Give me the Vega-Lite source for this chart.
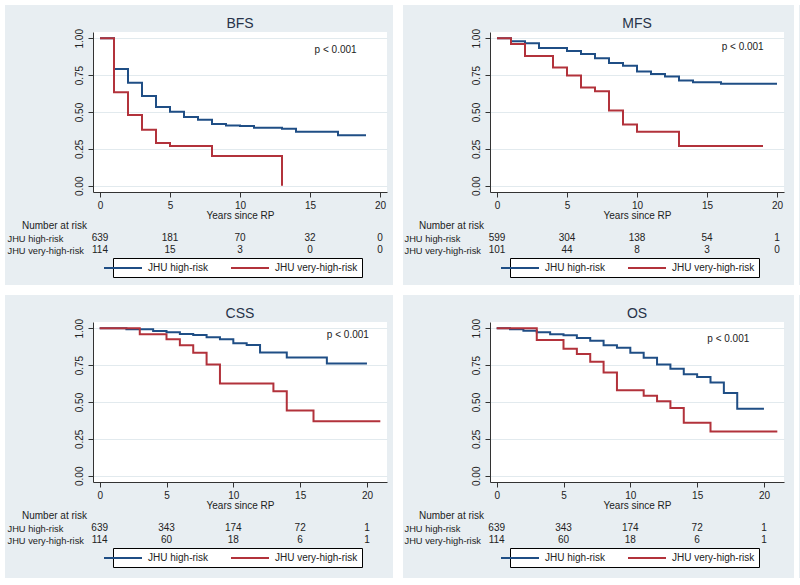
{
"$schema": "https://vega.github.io/schema/vega-lite/v6.json",
"background": "#e8eef2",
"padding": 0,
"config": {"font": "Liberation Sans", "view": {"stroke": null}, "concat": {"spacing": 0},
  "axisY": {"labelOverlap": false}, "axisX": {"labelOverlap": false}},
"datasets": {
"km": [
{"panel":"BFS","group":"JHU high-risk","t":0,"s":1.0},{"panel":"BFS","group":"JHU high-risk","t":1,"s":0.791},{"panel":"BFS","group":"JHU high-risk","t":2,"s":0.698},{"panel":"BFS","group":"JHU high-risk","t":3,"s":0.609},{"panel":"BFS","group":"JHU high-risk","t":4,"s":0.534},{"panel":"BFS","group":"JHU high-risk","t":5,"s":0.502},{"panel":"BFS","group":"JHU high-risk","t":6,"s":0.466},{"panel":"BFS","group":"JHU high-risk","t":7,"s":0.448},{"panel":"BFS","group":"JHU high-risk","t":8,"s":0.418},{"panel":"BFS","group":"JHU high-risk","t":9,"s":0.409},{"panel":"BFS","group":"JHU high-risk","t":10,"s":0.405},{"panel":"BFS","group":"JHU high-risk","t":11,"s":0.393},{"panel":"BFS","group":"JHU high-risk","t":13,"s":0.386},{"panel":"BFS","group":"JHU high-risk","t":14,"s":0.366},{"panel":"BFS","group":"JHU high-risk","t":17,"s":0.343},{"panel":"BFS","group":"JHU high-risk","t":19,"s":0.343},
{"panel":"MFS","group":"JHU high-risk","t":0,"s":1.0},{"panel":"MFS","group":"JHU high-risk","t":1,"s":0.98},{"panel":"MFS","group":"JHU high-risk","t":2,"s":0.966},{"panel":"MFS","group":"JHU high-risk","t":3,"s":0.934},{"panel":"MFS","group":"JHU high-risk","t":5,"s":0.914},{"panel":"MFS","group":"JHU high-risk","t":6,"s":0.893},{"panel":"MFS","group":"JHU high-risk","t":7,"s":0.864},{"panel":"MFS","group":"JHU high-risk","t":8,"s":0.832},{"panel":"MFS","group":"JHU high-risk","t":9,"s":0.814},{"panel":"MFS","group":"JHU high-risk","t":10,"s":0.775},{"panel":"MFS","group":"JHU high-risk","t":11,"s":0.757},{"panel":"MFS","group":"JHU high-risk","t":12,"s":0.741},{"panel":"MFS","group":"JHU high-risk","t":13,"s":0.714},{"panel":"MFS","group":"JHU high-risk","t":14,"s":0.702},{"panel":"MFS","group":"JHU high-risk","t":16,"s":0.691},{"panel":"MFS","group":"JHU high-risk","t":20,"s":0.691},
{"panel":"CSS","group":"JHU high-risk","t":0,"s":1.0},{"panel":"CSS","group":"JHU high-risk","t":2,"s":0.993},{"panel":"CSS","group":"JHU high-risk","t":4,"s":0.982},{"panel":"CSS","group":"JHU high-risk","t":5,"s":0.973},{"panel":"CSS","group":"JHU high-risk","t":6,"s":0.961},{"panel":"CSS","group":"JHU high-risk","t":7,"s":0.955},{"panel":"CSS","group":"JHU high-risk","t":8,"s":0.939},{"panel":"CSS","group":"JHU high-risk","t":9,"s":0.925},{"panel":"CSS","group":"JHU high-risk","t":10,"s":0.898},{"panel":"CSS","group":"JHU high-risk","t":11,"s":0.886},{"panel":"CSS","group":"JHU high-risk","t":12,"s":0.836},{"panel":"CSS","group":"JHU high-risk","t":14,"s":0.802},{"panel":"CSS","group":"JHU high-risk","t":17,"s":0.761},{"panel":"CSS","group":"JHU high-risk","t":20,"s":0.761},
{"panel":"OS","group":"JHU high-risk","t":0,"s":1.0},{"panel":"OS","group":"JHU high-risk","t":1,"s":0.993},{"panel":"OS","group":"JHU high-risk","t":2,"s":0.984},{"panel":"OS","group":"JHU high-risk","t":3,"s":0.973},{"panel":"OS","group":"JHU high-risk","t":4,"s":0.959},{"panel":"OS","group":"JHU high-risk","t":5,"s":0.952},{"panel":"OS","group":"JHU high-risk","t":6,"s":0.934},{"panel":"OS","group":"JHU high-risk","t":7,"s":0.916},{"panel":"OS","group":"JHU high-risk","t":8,"s":0.884},{"panel":"OS","group":"JHU high-risk","t":9,"s":0.868},{"panel":"OS","group":"JHU high-risk","t":10,"s":0.834},{"panel":"OS","group":"JHU high-risk","t":11,"s":0.8},{"panel":"OS","group":"JHU high-risk","t":12,"s":0.755},{"panel":"OS","group":"JHU high-risk","t":13,"s":0.725},{"panel":"OS","group":"JHU high-risk","t":14,"s":0.689},{"panel":"OS","group":"JHU high-risk","t":15,"s":0.67},{"panel":"OS","group":"JHU high-risk","t":16,"s":0.632},{"panel":"OS","group":"JHU high-risk","t":17,"s":0.561},{"panel":"OS","group":"JHU high-risk","t":18,"s":0.455},{"panel":"OS","group":"JHU high-risk","t":20,"s":0.455},
{"panel":"BFS","group":"JHU very-high-risk","t":0,"s":1.0},{"panel":"BFS","group":"JHU very-high-risk","t":1,"s":0.634},{"panel":"BFS","group":"JHU very-high-risk","t":2,"s":0.48},{"panel":"BFS","group":"JHU very-high-risk","t":3,"s":0.38},{"panel":"BFS","group":"JHU very-high-risk","t":4,"s":0.289},{"panel":"BFS","group":"JHU very-high-risk","t":5,"s":0.27},{"panel":"BFS","group":"JHU very-high-risk","t":8,"s":0.202},{"panel":"BFS","group":"JHU very-high-risk","t":13,"s":0.0},
{"panel":"MFS","group":"JHU very-high-risk","t":0,"s":1.0},{"panel":"MFS","group":"JHU very-high-risk","t":1,"s":0.961},{"panel":"MFS","group":"JHU very-high-risk","t":2,"s":0.88},{"panel":"MFS","group":"JHU very-high-risk","t":4,"s":0.802},{"panel":"MFS","group":"JHU very-high-risk","t":5,"s":0.748},{"panel":"MFS","group":"JHU very-high-risk","t":6,"s":0.666},{"panel":"MFS","group":"JHU very-high-risk","t":7,"s":0.641},{"panel":"MFS","group":"JHU very-high-risk","t":8,"s":0.511},{"panel":"MFS","group":"JHU very-high-risk","t":9,"s":0.416},{"panel":"MFS","group":"JHU very-high-risk","t":10,"s":0.366},{"panel":"MFS","group":"JHU very-high-risk","t":13,"s":0.27},{"panel":"MFS","group":"JHU very-high-risk","t":19,"s":0.27},
{"panel":"CSS","group":"JHU very-high-risk","t":0,"s":1.0},{"panel":"CSS","group":"JHU very-high-risk","t":3,"s":0.959},{"panel":"CSS","group":"JHU very-high-risk","t":5,"s":0.925},{"panel":"CSS","group":"JHU very-high-risk","t":6,"s":0.884},{"panel":"CSS","group":"JHU very-high-risk","t":7,"s":0.834},{"panel":"CSS","group":"JHU very-high-risk","t":8,"s":0.755},{"panel":"CSS","group":"JHU very-high-risk","t":9,"s":0.625},{"panel":"CSS","group":"JHU very-high-risk","t":13,"s":0.573},{"panel":"CSS","group":"JHU very-high-risk","t":14,"s":0.443},{"panel":"CSS","group":"JHU very-high-risk","t":16,"s":0.37},{"panel":"CSS","group":"JHU very-high-risk","t":21,"s":0.37},
{"panel":"OS","group":"JHU very-high-risk","t":0,"s":1.0},{"panel":"OS","group":"JHU very-high-risk","t":3,"s":0.92},{"panel":"OS","group":"JHU very-high-risk","t":5,"s":0.861},{"panel":"OS","group":"JHU very-high-risk","t":6,"s":0.825},{"panel":"OS","group":"JHU very-high-risk","t":7,"s":0.773},{"panel":"OS","group":"JHU very-high-risk","t":8,"s":0.7},{"panel":"OS","group":"JHU very-high-risk","t":9,"s":0.58},{"panel":"OS","group":"JHU very-high-risk","t":11,"s":0.543},{"panel":"OS","group":"JHU very-high-risk","t":12,"s":0.505},{"panel":"OS","group":"JHU very-high-risk","t":13,"s":0.459},{"panel":"OS","group":"JHU very-high-risk","t":14,"s":0.359},{"panel":"OS","group":"JHU very-high-risk","t":16,"s":0.3},{"panel":"OS","group":"JHU very-high-risk","t":21,"s":0.3}
],
"risk": [
{"panel":"BFS","group":"JHU high-risk","t":0,"n":639},{"panel":"BFS","group":"JHU high-risk","t":5,"n":181},{"panel":"BFS","group":"JHU high-risk","t":10,"n":70},{"panel":"BFS","group":"JHU high-risk","t":15,"n":32},{"panel":"BFS","group":"JHU high-risk","t":20,"n":0},
{"panel":"BFS","group":"JHU very-high-risk","t":0,"n":114},{"panel":"BFS","group":"JHU very-high-risk","t":5,"n":15},{"panel":"BFS","group":"JHU very-high-risk","t":10,"n":3},{"panel":"BFS","group":"JHU very-high-risk","t":15,"n":0},{"panel":"BFS","group":"JHU very-high-risk","t":20,"n":0},
{"panel":"MFS","group":"JHU high-risk","t":0,"n":599},{"panel":"MFS","group":"JHU high-risk","t":5,"n":304},{"panel":"MFS","group":"JHU high-risk","t":10,"n":138},{"panel":"MFS","group":"JHU high-risk","t":15,"n":54},{"panel":"MFS","group":"JHU high-risk","t":20,"n":1},
{"panel":"MFS","group":"JHU very-high-risk","t":0,"n":101},{"panel":"MFS","group":"JHU very-high-risk","t":5,"n":44},{"panel":"MFS","group":"JHU very-high-risk","t":10,"n":8},{"panel":"MFS","group":"JHU very-high-risk","t":15,"n":3},{"panel":"MFS","group":"JHU very-high-risk","t":20,"n":0},
{"panel":"CSS","group":"JHU high-risk","t":0,"n":639},{"panel":"CSS","group":"JHU high-risk","t":5,"n":343},{"panel":"CSS","group":"JHU high-risk","t":10,"n":174},{"panel":"CSS","group":"JHU high-risk","t":15,"n":72},{"panel":"CSS","group":"JHU high-risk","t":20,"n":1},
{"panel":"CSS","group":"JHU very-high-risk","t":0,"n":114},{"panel":"CSS","group":"JHU very-high-risk","t":5,"n":60},{"panel":"CSS","group":"JHU very-high-risk","t":10,"n":18},{"panel":"CSS","group":"JHU very-high-risk","t":15,"n":6},{"panel":"CSS","group":"JHU very-high-risk","t":20,"n":1},
{"panel":"OS","group":"JHU high-risk","t":0,"n":639},{"panel":"OS","group":"JHU high-risk","t":5,"n":343},{"panel":"OS","group":"JHU high-risk","t":10,"n":174},{"panel":"OS","group":"JHU high-risk","t":15,"n":72},{"panel":"OS","group":"JHU high-risk","t":20,"n":1},
{"panel":"OS","group":"JHU very-high-risk","t":0,"n":114},{"panel":"OS","group":"JHU very-high-risk","t":5,"n":60},{"panel":"OS","group":"JHU very-high-risk","t":10,"n":18},{"panel":"OS","group":"JHU very-high-risk","t":15,"n":6},{"panel":"OS","group":"JHU very-high-risk","t":20,"n":1}
],
"pv": [
{"panel":"BFS","label":"p < 0.001"},{"panel":"MFS","label":"p < 0.001"},{"panel":"CSS","label":"p < 0.001"},{"panel":"OS","label":"p < 0.001"}
]
},
"spacing": 0,
"resolve": {"scale": {"x": "independent", "y": "independent", "color": "independent"}, "axis": {"x": "independent", "y": "independent"}, "legend": {"color": "independent"}},
"vconcat": [
{"width": 800, "height": 5, "data": {"values": []}, "mark": "point", "encoding": {}, "view": {"fill": "white"}},
{"spacing": 0,
 "resolve": {"scale": {"x": "independent", "y": "independent", "color": "independent"}, "axis": {"x": "independent", "y": "independent"}, "legend": {"color": "independent"}},
 "hconcat": [
 {"width": 5, "height": 280, "data": {"values": []}, "mark": "point", "encoding": {}, "view": {"fill": "white"}},
 {"width": 2, "height": 280, "data": {"values": []}, "mark": "point", "encoding": {}},
 {"spacing": 0, "bounds": "flush",
  "resolve": {"scale": {"x": "independent", "y": "independent", "color": "independent"}, "axis": {"x": "independent", "y": "independent"}, "legend": {"color": "independent"}},
  "vconcat": [
  {"width": 294, "height": 27, "data": {"values": []}, "mark": "point", "encoding": {}},
  {"width": 294, "height": 160, "view": {"fill": "white", "stroke": null},
   "title": {"text": "BFS", "fontSize": 14, "fontWeight": "normal", "color": "#273349", "offset": -2, "anchor": "middle", "frame": "group"},
   "layer": [
    {"data": {"name": "km"}, "transform": [{"filter": "datum.panel === 'BFS'"}],
     "mark": {"type": "line", "interpolate": "step-after", "strokeWidth": 2},
     "encoding": {
      "x": {"field": "t", "type": "quantitative", "scale": {"domain": [-0.5, 20.5], "nice": false, "zero": false},
            "axis": {"values": [0,5,10,15,20], "tickCount": 5, "title": "Years since RP", "titleFontSize": 10, "titleFontWeight": "normal", "titleColor": "#222", "titlePadding": 0, "labelFontSize": 10, "labelColor": "#222", "labelPadding": 3, "labelFlush": false, "tickSize": 5, "tickColor": "#333", "domainColor": "#333", "grid": false}},
      "y": {"field": "s", "type": "quantitative", "scale": {"domain": [-0.0425, 1.0425], "nice": false, "zero": false},
            "axis": {"values": [0,0.25,0.5,0.75,1], "tickCount": 5, "format": ".2f", "title": null, "labelAngle": -90, "labelFontSize": 10, "labelColor": "#222", "labelPadding": 4, "labelFlush": false, "labelOverlap": false, "tickSize": 5, "tickColor": "#333", "domainColor": "#333", "grid": true, "gridColor": "#e2eaee"}},
      "color": {"field": "group", "type": "nominal", "scale": {"domain": ["JHU high-risk", "JHU very-high-risk"], "range": ["#1f4e85", "#b2323b"]},
            "legend": {"orient": "none", "legendX": 20, "legendY": 226, "direction": "horizontal", "columns": 2, "title": null, "symbolType": "M-3.8,0H3.8", "symbolSize": 100, "symbolStrokeWidth": 2, "labelFontSize": 10, "labelColor": "#222", "labelOffset": 19, "columnPadding": 18, "padding": 4, "strokeColor": "#000", "fillColor": "#fff", "cornerRadius": 0}}
     }},
    {"data": {"name": "pv"}, "transform": [{"filter": "datum.panel === 'BFS'"}],
     "mark": {"type": "text", "align": "left", "baseline": "middle", "fontSize": 10, "color": "#222"},
     "encoding": {"x": {"datum": 15.33}, "y": {"datum": 0.92}, "text": {"field": "label"}}}
   ]},
  {"width": 294, "height": 40, "data": {"values": []}, "mark": "point", "encoding": {}},
  {"width": 294, "height": 24,
   "title": {"text": "Number at risk", "anchor": "start", "frame": "bounds", "dx": 15, "offset": 1, "fontSize": 10, "fontWeight": "normal", "color": "#222"},
   "data": {"name": "risk"}, "transform": [{"filter": "datum.panel === 'BFS'"}],
   "mark": {"type": "text", "fontSize": 10, "color": "#222", "baseline": "middle"},
   "encoding": {
    "x": {"field": "t", "type": "quantitative", "scale": {"domain": [-0.5, 20.5], "nice": false, "zero": false}, "axis": null},
    "y": {"field": "group", "type": "nominal", "scale": {"type": "point", "padding": 0.5, "domain": ["JHU high-risk", "JHU very-high-risk"]},
          "axis": {"title": null, "domain": false, "ticks": false, "tickSize": 0, "labelAlign": "left", "labelPadding": 86, "labelFontSize": 9.3, "labelColor": "#222", "labelBaseline": "middle"}},
    "text": {"field": "n", "type": "quantitative"}
   }},
  {"width": 294, "height": 29, "data": {"values": []}, "mark": "point", "encoding": {}}
  ]},
 {"width": 6, "height": 280, "data": {"values": []}, "mark": "point", "encoding": {}},
 {"width": 10, "height": 280, "data": {"values": []}, "mark": "point", "encoding": {}, "view": {"fill": "white"}},
 {"width": 1, "height": 280, "data": {"values": []}, "mark": "point", "encoding": {}},
 {"spacing": 0, "bounds": "flush",
  "resolve": {"scale": {"x": "independent", "y": "independent", "color": "independent"}, "axis": {"x": "independent", "y": "independent"}, "legend": {"color": "independent"}},
  "vconcat": [
  {"width": 294, "height": 27, "data": {"values": []}, "mark": "point", "encoding": {}},
  {"width": 294, "height": 160, "view": {"fill": "white", "stroke": null},
   "title": {"text": "MFS", "fontSize": 14, "fontWeight": "normal", "color": "#273349", "offset": -2, "anchor": "middle", "frame": "group"},
   "layer": [
    {"data": {"name": "km"}, "transform": [{"filter": "datum.panel === 'MFS'"}],
     "mark": {"type": "line", "interpolate": "step-after", "strokeWidth": 2},
     "encoding": {
      "x": {"field": "t", "type": "quantitative", "scale": {"domain": [-0.5, 20.5], "nice": false, "zero": false},
            "axis": {"values": [0,5,10,15,20], "tickCount": 5, "title": "Years since RP", "titleFontSize": 10, "titleFontWeight": "normal", "titleColor": "#222", "titlePadding": 0, "labelFontSize": 10, "labelColor": "#222", "labelPadding": 3, "labelFlush": false, "tickSize": 5, "tickColor": "#333", "domainColor": "#333", "grid": false}},
      "y": {"field": "s", "type": "quantitative", "scale": {"domain": [-0.0425, 1.0425], "nice": false, "zero": false},
            "axis": {"values": [0,0.25,0.5,0.75,1], "tickCount": 5, "format": ".2f", "title": null, "labelAngle": -90, "labelFontSize": 10, "labelColor": "#222", "labelPadding": 4, "labelFlush": false, "labelOverlap": false, "tickSize": 5, "tickColor": "#333", "domainColor": "#333", "grid": true, "gridColor": "#e2eaee"}},
      "color": {"field": "group", "type": "nominal", "scale": {"domain": ["JHU high-risk", "JHU very-high-risk"], "range": ["#1f4e85", "#b2323b"]},
            "legend": {"orient": "none", "legendX": 20, "legendY": 226, "direction": "horizontal", "columns": 2, "title": null, "symbolType": "M-3.8,0H3.8", "symbolSize": 100, "symbolStrokeWidth": 2, "labelFontSize": 10, "labelColor": "#222", "labelOffset": 19, "columnPadding": 18, "padding": 4, "strokeColor": "#000", "fillColor": "#fff", "cornerRadius": 0}}
     }},
    {"data": {"name": "pv"}, "transform": [{"filter": "datum.panel === 'MFS'"}],
     "mark": {"type": "text", "align": "left", "baseline": "middle", "fontSize": 10, "color": "#222"},
     "encoding": {"x": {"datum": 16.05}, "y": {"datum": 0.94}, "text": {"field": "label"}}}
   ]},
  {"width": 294, "height": 40, "data": {"values": []}, "mark": "point", "encoding": {}},
  {"width": 294, "height": 24,
   "title": {"text": "Number at risk", "anchor": "start", "frame": "bounds", "dx": 15, "offset": 1, "fontSize": 10, "fontWeight": "normal", "color": "#222"},
   "data": {"name": "risk"}, "transform": [{"filter": "datum.panel === 'MFS'"}],
   "mark": {"type": "text", "fontSize": 10, "color": "#222", "baseline": "middle"},
   "encoding": {
    "x": {"field": "t", "type": "quantitative", "scale": {"domain": [-0.5, 20.5], "nice": false, "zero": false}, "axis": null},
    "y": {"field": "group", "type": "nominal", "scale": {"type": "point", "padding": 0.5, "domain": ["JHU high-risk", "JHU very-high-risk"]},
          "axis": {"title": null, "domain": false, "ticks": false, "tickSize": 0, "labelAlign": "left", "labelPadding": 86, "labelFontSize": 9.3, "labelColor": "#222", "labelBaseline": "middle"}},
    "text": {"field": "n", "type": "quantitative"}
   }},
  {"width": 294, "height": 29, "data": {"values": []}, "mark": "point", "encoding": {}}
  ]},
 {"width": 10, "height": 280, "data": {"values": []}, "mark": "point", "encoding": {}},
 {"width": 5, "height": 280, "data": {"values": []}, "mark": "point", "encoding": {}, "view": {"fill": "white"}}
 ]},
{"width": 800, "height": 10, "data": {"values": []}, "mark": "point", "encoding": {}, "view": {"fill": "white"}},
{"spacing": 0,
 "resolve": {"scale": {"x": "independent", "y": "independent", "color": "independent"}, "axis": {"x": "independent", "y": "independent"}, "legend": {"color": "independent"}},
 "hconcat": [
 {"width": 5, "height": 283, "data": {"values": []}, "mark": "point", "encoding": {}, "view": {"fill": "white"}},
 {"width": 2, "height": 283, "data": {"values": []}, "mark": "point", "encoding": {}},
 {"spacing": 0, "bounds": "flush",
  "resolve": {"scale": {"x": "independent", "y": "independent", "color": "independent"}, "axis": {"x": "independent", "y": "independent"}, "legend": {"color": "independent"}},
  "vconcat": [
  {"width": 294, "height": 27, "data": {"values": []}, "mark": "point", "encoding": {}},
  {"width": 294, "height": 160, "view": {"fill": "white", "stroke": null},
   "title": {"text": "CSS", "fontSize": 14, "fontWeight": "normal", "color": "#273349", "offset": -2, "anchor": "middle", "frame": "group"},
   "layer": [
    {"data": {"name": "km"}, "transform": [{"filter": "datum.panel === 'CSS'"}],
     "mark": {"type": "line", "interpolate": "step-after", "strokeWidth": 2},
     "encoding": {
      "x": {"field": "t", "type": "quantitative", "scale": {"domain": [-0.5, 21.5], "nice": false, "zero": false},
            "axis": {"values": [0,5,10,15,20], "tickCount": 5, "title": "Years since RP", "titleFontSize": 10, "titleFontWeight": "normal", "titleColor": "#222", "titlePadding": 0, "labelFontSize": 10, "labelColor": "#222", "labelPadding": 3, "labelFlush": false, "tickSize": 5, "tickColor": "#333", "domainColor": "#333", "grid": false}},
      "y": {"field": "s", "type": "quantitative", "scale": {"domain": [-0.0425, 1.0425], "nice": false, "zero": false},
            "axis": {"values": [0,0.25,0.5,0.75,1], "tickCount": 5, "format": ".2f", "title": null, "labelAngle": -90, "labelFontSize": 10, "labelColor": "#222", "labelPadding": 4, "labelFlush": false, "labelOverlap": false, "tickSize": 5, "tickColor": "#333", "domainColor": "#333", "grid": true, "gridColor": "#e2eaee"}},
      "color": {"field": "group", "type": "nominal", "scale": {"domain": ["JHU high-risk", "JHU very-high-risk"], "range": ["#1f4e85", "#b2323b"]},
            "legend": {"orient": "none", "legendX": 20, "legendY": 226, "direction": "horizontal", "columns": 2, "title": null, "symbolType": "M-3.8,0H3.8", "symbolSize": 100, "symbolStrokeWidth": 2, "labelFontSize": 10, "labelColor": "#222", "labelOffset": 19, "columnPadding": 18, "padding": 4, "strokeColor": "#000", "fillColor": "#fff", "cornerRadius": 0}}
     }},
    {"data": {"name": "pv"}, "transform": [{"filter": "datum.panel === 'CSS'"}],
     "mark": {"type": "text", "align": "left", "baseline": "middle", "fontSize": 10, "color": "#222"},
     "encoding": {"x": {"datum": 17.0}, "y": {"datum": 0.955}, "text": {"field": "label"}}}
   ]},
  {"width": 294, "height": 40, "data": {"values": []}, "mark": "point", "encoding": {}},
  {"width": 294, "height": 24,
   "title": {"text": "Number at risk", "anchor": "start", "frame": "bounds", "dx": 15, "offset": 1, "fontSize": 10, "fontWeight": "normal", "color": "#222"},
   "data": {"name": "risk"}, "transform": [{"filter": "datum.panel === 'CSS'"}],
   "mark": {"type": "text", "fontSize": 10, "color": "#222", "baseline": "middle"},
   "encoding": {
    "x": {"field": "t", "type": "quantitative", "scale": {"domain": [-0.5, 21.5], "nice": false, "zero": false}, "axis": null},
    "y": {"field": "group", "type": "nominal", "scale": {"type": "point", "padding": 0.5, "domain": ["JHU high-risk", "JHU very-high-risk"]},
          "axis": {"title": null, "domain": false, "ticks": false, "tickSize": 0, "labelAlign": "left", "labelPadding": 86, "labelFontSize": 9.3, "labelColor": "#222", "labelBaseline": "middle"}},
    "text": {"field": "n", "type": "quantitative"}
   }},
  {"width": 294, "height": 32, "data": {"values": []}, "mark": "point", "encoding": {}}
  ]},
 {"width": 6, "height": 283, "data": {"values": []}, "mark": "point", "encoding": {}},
 {"width": 10, "height": 283, "data": {"values": []}, "mark": "point", "encoding": {}, "view": {"fill": "white"}},
 {"width": 1, "height": 283, "data": {"values": []}, "mark": "point", "encoding": {}},
 {"spacing": 0, "bounds": "flush",
  "resolve": {"scale": {"x": "independent", "y": "independent", "color": "independent"}, "axis": {"x": "independent", "y": "independent"}, "legend": {"color": "independent"}},
  "vconcat": [
  {"width": 294, "height": 27, "data": {"values": []}, "mark": "point", "encoding": {}},
  {"width": 294, "height": 160, "view": {"fill": "white", "stroke": null},
   "title": {"text": "OS", "fontSize": 14, "fontWeight": "normal", "color": "#273349", "offset": -2, "anchor": "middle", "frame": "group"},
   "layer": [
    {"data": {"name": "km"}, "transform": [{"filter": "datum.panel === 'OS'"}],
     "mark": {"type": "line", "interpolate": "step-after", "strokeWidth": 2},
     "encoding": {
      "x": {"field": "t", "type": "quantitative", "scale": {"domain": [-0.5, 21.5], "nice": false, "zero": false},
            "axis": {"values": [0,5,10,15,20], "tickCount": 5, "title": "Years since RP", "titleFontSize": 10, "titleFontWeight": "normal", "titleColor": "#222", "titlePadding": 0, "labelFontSize": 10, "labelColor": "#222", "labelPadding": 3, "labelFlush": false, "tickSize": 5, "tickColor": "#333", "domainColor": "#333", "grid": false}},
      "y": {"field": "s", "type": "quantitative", "scale": {"domain": [-0.0425, 1.0425], "nice": false, "zero": false},
            "axis": {"values": [0,0.25,0.5,0.75,1], "tickCount": 5, "format": ".2f", "title": null, "labelAngle": -90, "labelFontSize": 10, "labelColor": "#222", "labelPadding": 4, "labelFlush": false, "labelOverlap": false, "tickSize": 5, "tickColor": "#333", "domainColor": "#333", "grid": true, "gridColor": "#e2eaee"}},
      "color": {"field": "group", "type": "nominal", "scale": {"domain": ["JHU high-risk", "JHU very-high-risk"], "range": ["#1f4e85", "#b2323b"]},
            "legend": {"orient": "none", "legendX": 20, "legendY": 226, "direction": "horizontal", "columns": 2, "title": null, "symbolType": "M-3.8,0H3.8", "symbolSize": 100, "symbolStrokeWidth": 2, "labelFontSize": 10, "labelColor": "#222", "labelOffset": 19, "columnPadding": 18, "padding": 4, "strokeColor": "#000", "fillColor": "#fff", "cornerRadius": 0}}
     }},
    {"data": {"name": "pv"}, "transform": [{"filter": "datum.panel === 'OS'"}],
     "mark": {"type": "text", "align": "left", "baseline": "middle", "fontSize": 10, "color": "#222"},
     "encoding": {"x": {"datum": 15.76}, "y": {"datum": 0.93}, "text": {"field": "label"}}}
   ]},
  {"width": 294, "height": 40, "data": {"values": []}, "mark": "point", "encoding": {}},
  {"width": 294, "height": 24,
   "title": {"text": "Number at risk", "anchor": "start", "frame": "bounds", "dx": 15, "offset": 1, "fontSize": 10, "fontWeight": "normal", "color": "#222"},
   "data": {"name": "risk"}, "transform": [{"filter": "datum.panel === 'OS'"}],
   "mark": {"type": "text", "fontSize": 10, "color": "#222", "baseline": "middle"},
   "encoding": {
    "x": {"field": "t", "type": "quantitative", "scale": {"domain": [-0.5, 21.5], "nice": false, "zero": false}, "axis": null},
    "y": {"field": "group", "type": "nominal", "scale": {"type": "point", "padding": 0.5, "domain": ["JHU high-risk", "JHU very-high-risk"]},
          "axis": {"title": null, "domain": false, "ticks": false, "tickSize": 0, "labelAlign": "left", "labelPadding": 86, "labelFontSize": 9.3, "labelColor": "#222", "labelBaseline": "middle"}},
    "text": {"field": "n", "type": "quantitative"}
   }},
  {"width": 294, "height": 32, "data": {"values": []}, "mark": "point", "encoding": {}}
  ]},
 {"width": 10, "height": 283, "data": {"values": []}, "mark": "point", "encoding": {}},
 {"width": 5, "height": 283, "data": {"values": []}, "mark": "point", "encoding": {}, "view": {"fill": "white"}}
 ]},
{"width": 800, "height": 5, "data": {"values": []}, "mark": "point", "encoding": {}, "view": {"fill": "white"}}
]
}
